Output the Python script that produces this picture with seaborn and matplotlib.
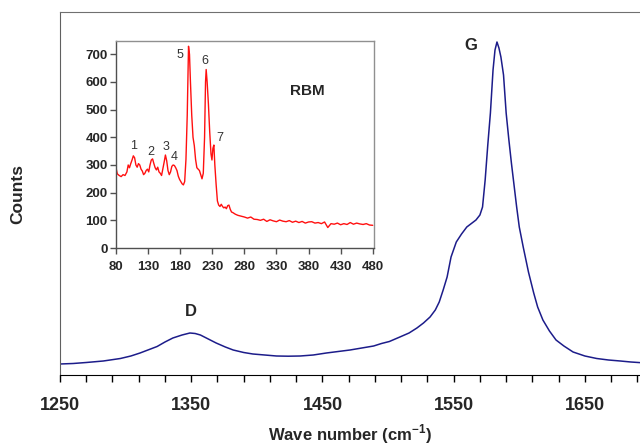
import numpy as np
import pandas as pd
import matplotlib
matplotlib.use("Agg")
import matplotlib.pyplot as plt
import seaborn as sns

# main Raman spectrum (D and G bands), intensity in arbitrary units
main_wave = [1250, 1260, 1270, 1283, 1296, 1304, 1311, 1318, 1324, 1330, 1336, 1343,
             1349, 1353, 1357, 1363, 1369, 1376, 1382, 1390, 1397, 1406, 1415, 1424,
             1433, 1443, 1453, 1462, 1471, 1480, 1489, 1495, 1501, 1509, 1516, 1522,
             1527, 1532, 1536, 1539, 1542, 1545, 1548, 1552, 1556, 1560, 1564, 1567,
             1570, 1572, 1574, 1576, 1578, 1580, 1581.5, 1583, 1584.5, 1586, 1588, 1590,
             1592, 1594, 1596, 1598, 1600, 1603, 1607, 1611, 1614, 1618, 1623, 1628,
             1634, 1641, 1650, 1659, 1668, 1677, 1685, 1693]
main_counts = [110, 115, 125, 140, 165, 190, 220, 255, 285, 330, 370, 400,
               420, 415, 400, 360, 320, 280, 250, 225, 210, 200, 190, 188,
               190, 200, 220, 235, 250, 270, 290, 315, 335, 380, 420, 470,
               520, 580, 650, 730, 850, 980, 1180, 1330, 1410, 1480, 1520, 1550,
               1600, 1680, 1950, 2300, 2620, 3050, 3250, 3330, 3270, 3180, 3000, 2620,
               2360, 2120, 1900, 1680, 1480, 1280, 1030, 820, 680, 550, 440, 350,
               290, 230, 190, 165, 150, 140, 130, 123]
main_ticks = [1250, 1350, 1450, 1550, 1650]

# inset: radial breathing modes
rbm_wave = [80, 82, 85, 88, 91, 94, 97, 99, 101, 103, 105, 107, 109, 111, 113, 115,
            117, 119, 121, 123, 125, 127, 129, 131, 133, 135, 137, 139, 141, 143, 145,
            147, 149, 151, 153, 155, 157, 159, 161, 163, 165, 167, 169, 171, 173, 175,
            177, 179, 181, 183, 185, 187, 189, 191, 193, 194.5, 196, 198, 200, 202, 204,
            206, 208, 210, 212, 214, 216, 218, 219.5, 220.5, 222, 224, 226, 228, 229.5,
            231, 232.5, 234, 236, 238, 240, 242, 244, 246, 248, 250, 252, 254, 256, 258,
            260, 262, 266, 270, 275, 280, 285, 290, 295, 300, 305, 310, 315, 320, 325,
            330, 335, 340, 345, 350, 355, 360, 365, 370, 375, 380, 385, 390, 395, 400,
            405, 410, 415, 420, 425, 430, 435, 440, 445, 450, 455, 460, 465, 470, 475, 480]
rbm_counts = [290, 268, 262, 258, 265, 262, 275, 300, 290, 305, 318, 333, 326, 300, 292, 305,
              300, 285, 278, 265, 270, 280, 285, 275, 300, 318, 322, 305, 290, 282, 292,
              275, 270, 262, 285, 310, 336, 315, 280, 265, 275, 295, 300, 298, 290, 280,
              260, 248, 240, 232, 228, 240, 320, 480, 729, 700, 600, 480, 400, 370, 320,
              290, 285, 280, 265, 250, 270, 400, 600, 645, 600, 520, 420, 340, 318,
              360, 372, 300, 230, 170, 155, 150, 158, 150, 145, 148, 142, 153, 155, 140,
              130, 128, 122, 118, 115, 112, 108, 112, 104, 103, 100, 104, 96, 102, 98,
              95, 101, 97, 95, 99, 93, 97, 92, 96, 90, 94, 95, 90, 92, 88,
              94, 74, 88, 86, 90, 84, 88, 85, 92, 86, 90, 87, 85, 88, 83, 82]

peak_labels = ["1", "2", "3", "4", "5", "6", "7"]
peak_x = [108, 135, 158.5, 171, 180, 219, 242.5]
peak_y = [369, 348, 364, 330, 696, 676, 396]

main_df = pd.DataFrame({"wave": main_wave, "counts": main_counts})
rbm_df = pd.DataFrame({"wave": rbm_wave, "counts": rbm_counts})

sns.set_style("ticks")
plt.rcParams["font.family"] = ["Liberation Sans", "DejaVu Sans"]
plt.rcParams["mathtext.fontset"] = "custom"
plt.rcParams["mathtext.rm"] = "Liberation Sans"
plt.rcParams["mathtext.bf"] = "Liberation Sans:bold"

fig = plt.figure(figsize=(6.4, 4.47), dpi=100)
ax = fig.add_axes([60 / 640, 1 - 375 / 447, 580 / 640, 363 / 447])

sns.lineplot(data=main_df, x="wave", y="counts", ax=ax, color="#1c1c8a",
             linewidth=1.1, estimator=None, sort=False)
ax.set_xlim(1250, 1692)
ax.set_ylim(0, 3630)
ax.set_xticks(main_ticks)
ax.set_xticks(np.arange(1250, 1693, 20), minor=True)
ax.set_yticks([])
ax.tick_params(axis="x", which="both", direction="out", length=5, width=1,
               color="black", pad=11, labelsize=13)
for lab in ax.get_xticklabels():
    lab.set_fontweight("bold")
ax.spines["right"].set_visible(False)
ax.spines["top"].set_color("#707070")
ax.spines["left"].set_color("#606060")
ax.spines["bottom"].set_color("black")
ax.set_xlabel(r"Wave number (cm$^{\mathbf{-1}}$)", fontsize=12, fontweight="bold", labelpad=6)
ax.set_ylabel("Counts", fontsize=12.5, fontweight="bold")
ax.yaxis.set_label_coords(-0.06, 0.5)

ax.text(1350, 630, "D", fontsize=12, fontweight="bold", ha="center", va="center")
ax.text(1563, 3300, "G", fontsize=12, fontweight="bold", ha="center", va="center")

# inset
ins = fig.add_axes([116 / 640, 1 - 248 / 447, 258 / 640, 207 / 447])
sns.lineplot(data=rbm_df, x="wave", y="counts", ax=ins, color="#ff1010",
             linewidth=1.0, estimator=None, sort=False)
ins.set_xlim(80, 482)
ins.set_ylim(0, 748)
ins.set_xticks(np.arange(80, 481, 50))
ins.set_yticks(np.arange(0, 701, 100))
ins.tick_params(axis="both", direction="out", length=4, width=1, color="#505050",
                labelsize=9.5)
ins.tick_params(axis="x", pad=5)
ins.tick_params(axis="y", pad=2)
for lab in ins.get_xticklabels() + ins.get_yticklabels():
    lab.set_fontweight("bold")
for s in ins.spines.values():
    s.set_color("#909090")
    s.set_linewidth(1)
ins.spines["left"].set_color("#505050")
ins.spines["bottom"].set_color("#505050")
ins.set_xlabel("")
ins.set_ylabel("")

for t, x, y in zip(peak_labels, peak_x, peak_y):
    ins.text(x, y, t, fontsize=9, color="#333333", ha="center", va="center")
ins.text(378, 568, "RBM", fontsize=11, fontweight="bold", ha="center", va="center")

fig.savefig("out.png", dpi=100)
